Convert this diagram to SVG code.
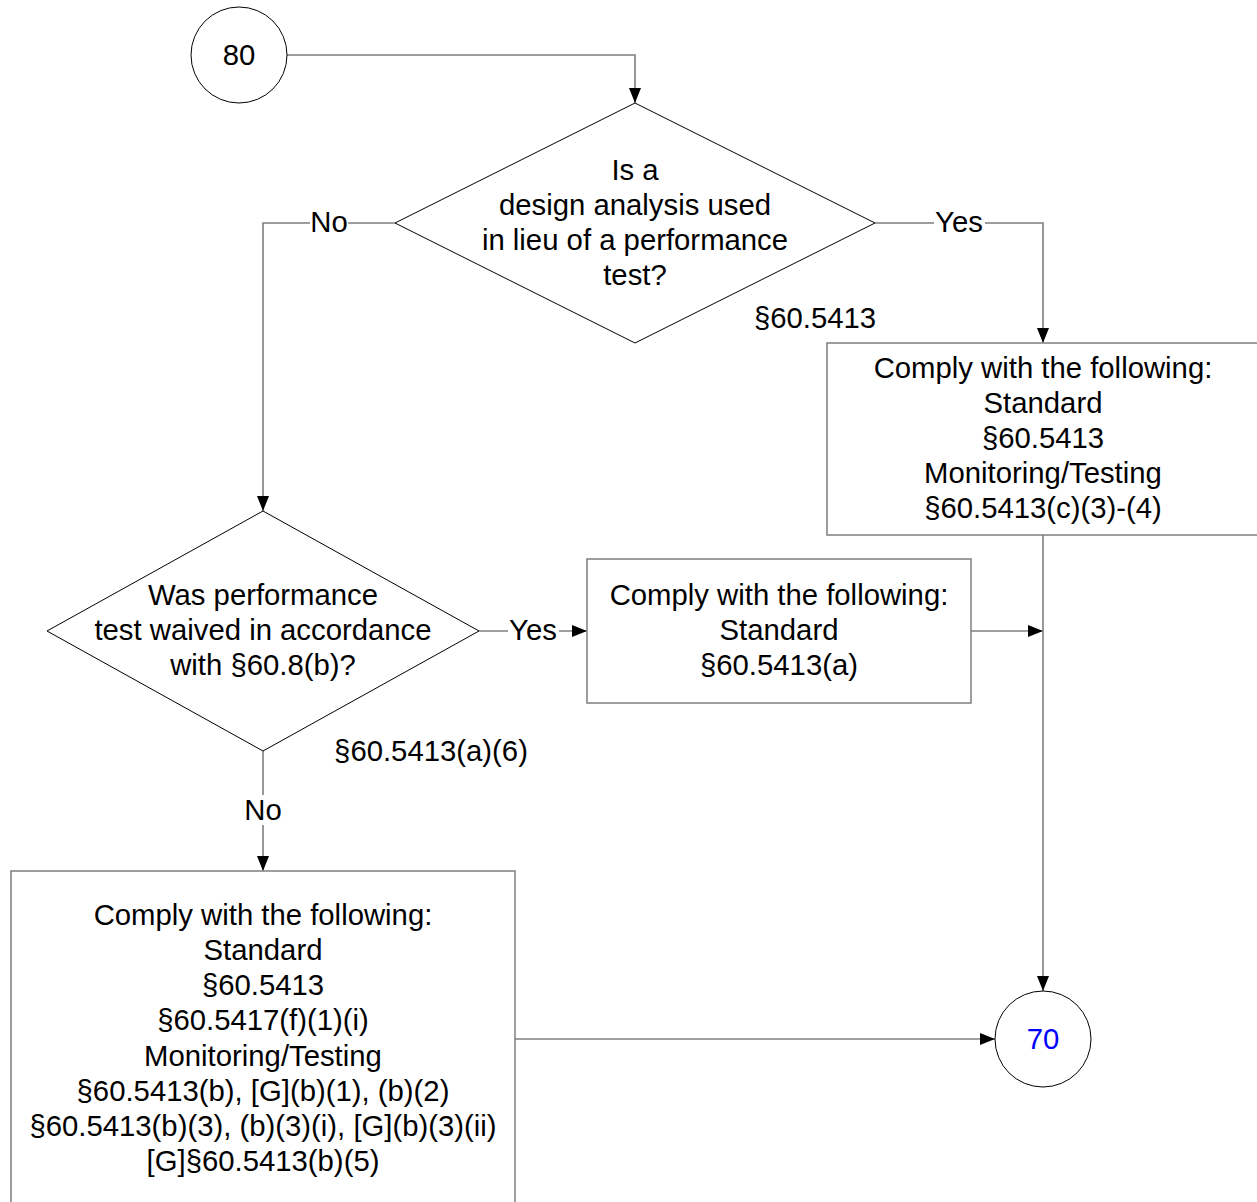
<svg xmlns="http://www.w3.org/2000/svg" width="1257" height="1202" viewBox="0 0 1257 1202">
<style>
text{font-family:"Liberation Sans",Arial,sans-serif;font-size:29.3px;fill:#000;text-anchor:middle}
.box{fill:#fff;stroke:#7f7f7f;stroke-width:1.5}
.dia{fill:#fff;stroke:#000;stroke-width:1}
.conn{fill:none;stroke:#7f7f7f;stroke-width:1.6}
.lbg{fill:#fff;stroke:none}
.blue{fill:#0000ff}
</style>
<defs>
<marker id="arr" markerUnits="userSpaceOnUse" markerWidth="17" markerHeight="14" refX="15" refY="7" orient="auto">
<path d="M0,1 L15,7 L0,13 z" fill="#000"/>
</marker>
</defs>
<rect width="1257" height="1202" fill="#fff"/>
<g id="connectors">
<path class="conn" d="M287,55 H635 V103" marker-end="url(#arr)"/>
<path class="conn" d="M395,223 H263 V511" marker-end="url(#arr)"/>
<path class="conn" d="M875,223 H1043 V343" marker-end="url(#arr)"/>
<path class="conn" d="M479,631 H587" marker-end="url(#arr)"/>
<path class="conn" d="M263,751 V871" marker-end="url(#arr)"/>
<path class="conn" d="M971,631 H1043" marker-end="url(#arr)"/>
<path class="conn" d="M1043,535 V991" marker-end="url(#arr)"/>
<path class="conn" d="M515,1039 H995" marker-end="url(#arr)"/>
<rect class="lbg" x="310" y="208" width="38" height="30"/>
<text x="329" y="232">No</text>
<rect class="lbg" x="934" y="208" width="51" height="30"/>
<text x="959" y="232">Yes</text>
<rect class="lbg" x="508" y="616" width="51" height="30"/>
<text x="533" y="640">Yes</text>
<rect class="lbg" x="244" y="795" width="38" height="30"/>
<text x="263" y="820">No</text>
<text x="815" y="328">§60.5413</text>
<text x="431" y="761">§60.5413(a)(6)</text>
</g>
<g id="start80">
<circle cx="239" cy="55" r="48" fill="#fff" stroke="#000" stroke-width="1"/>
<text x="239" y="65">80</text>
</g>
<g id="decision1">
<polygon class="dia" points="635,103 875,223 635,343 395,223"/>
<text x="635" y="180">Is a</text>
<text x="635" y="215">design analysis used</text>
<text x="635" y="250">in lieu of a performance</text>
<text x="635" y="285">test?</text>
</g>
<g id="box1">
<rect class="box" x="827" y="343" width="432" height="192"/>
<text x="1043" y="378">Comply with the following:</text>
<text x="1043" y="413">Standard</text>
<text x="1043" y="448">§60.5413</text>
<text x="1043" y="483">Monitoring/Testing</text>
<text x="1043" y="518">§60.5413(c)(3)-(4)</text>
</g>
<g id="decision2">
<polygon class="dia" points="263,511 479,631 263,751 47,631"/>
<text x="263" y="605">Was performance</text>
<text x="263" y="640">test waived in accordance</text>
<text x="263" y="675">with §60.8(b)?</text>
</g>
<g id="box2">
<rect class="box" x="587" y="559" width="384" height="144"/>
<text x="779" y="605">Comply with the following:</text>
<text x="779" y="640">Standard</text>
<text x="779" y="675">§60.5413(a)</text>
</g>
<g id="box3">
<rect class="box" x="11" y="871" width="504" height="340"/>
<text x="263" y="925">Comply with the following:</text>
<text x="263" y="960">Standard</text>
<text x="263" y="995">§60.5413</text>
<text x="263" y="1030">§60.5417(f)(1)(i)</text>
<text x="263" y="1066">Monitoring/Testing</text>
<text x="263" y="1101">§60.5413(b), [G](b)(1), (b)(2)</text>
<text x="263" y="1136">§60.5413(b)(3), (b)(3)(i), [G](b)(3)(ii)</text>
<text x="263" y="1171">[G]§60.5413(b)(5)</text>
</g>
<g id="end70">
<circle cx="1043" cy="1039" r="48" fill="#fff" stroke="#000" stroke-width="1"/>
<text class="blue" x="1043" y="1049">70</text>
</g>
</svg>
